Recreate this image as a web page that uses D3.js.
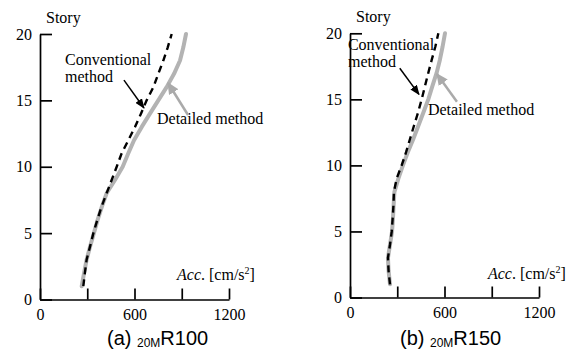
<!DOCTYPE html>
<html><head><meta charset="utf-8">
<script src="https://cdn.jsdelivr.net/npm/d3@7"></script>
<style>
body{margin:0;background:#fff;}
svg{display:block;}
</style></head>
<body><svg id="c" width="586" height="352"></svg>
<script>
const stories = [1,2,3,4,5,6,7,8,9,10,11,12,13,14,15,16,17,18,19,20];
const convA = [275,285,296,318,339,364,391,423,455,487,518,561,603,641,677,720,751,783,811,836];
const detA  = [265,280,296,318,342,366,393,423,476,525,560,597,646,698,751,804,851,889,910,927];
const convB = [254,245,241,254,265,271,276,279,296,328,356,381,406,432,455,476,497,519,542,561];
const detB  = [254,245,241,254,267,273,277,282,307,336,367,402,434,466,497,523,550,571,588,603];
const xTicks = [0,300,600,900,1200];
const xTickLabels = ["0","","600","","1200"];
const yTicks = [0,5,10,15,20];
const titles = [["(a) ","20M","R100"],["(b) ","20M","R150"]];
// annotation positions in data units [acc, story]
const annA = {conv:[159,17.66], method:[159,16.38], convArrow:[[533,16.53],[660,14.43]], det:[743,13.22], detArrow:[[940,13.9],[813,16.31]], acc:[870,1.47]};
const annB = {conv:[-13,18.74], method:[-13,17.45], convArrow:[[316,17.35],[438,15.38]], det:[495,13.82], detArrow:[[679,14.82],[552,16.92]], acc:[876,1.38]};

const panels = [
  {conv:convA, det:detA, xr:[40,229], yr:[299.5,34], ann:annA, title:titles[0], tx:107},
  {conv:convB, det:detB, xr:[350,539], yr:[297.5,33.3], ann:annB, title:titles[1], tx:400}
];
const svg = d3.select("#c");
const serif = "'Liberation Serif','Times New Roman',serif";

const defs = svg.append("defs");
function marker(id, color, w, h){
  defs.append("marker").attr("id",id).attr("viewBox","0 0 10 10").attr("refX",9).attr("refY",5)
    .attr("markerWidth",w).attr("markerHeight",h).attr("markerUnits","userSpaceOnUse").attr("orient","auto")
    .attr("preserveAspectRatio","none")
    .append("path").attr("d","M0,0L10,5L0,10Z").attr("fill",color);
}
marker("ab","#000",10,8);
marker("ag","#aaa",12,11);

panels.forEach(p=>{
  const x = d3.scaleLinear().domain([0,1200]).range(p.xr);
  const y = d3.scaleLinear().domain([0,20]).range(p.yr);
  const g = svg.append("g");
  const ax = g.append("g").attr("transform",`translate(0,${y(0)})`)
    .call(d3.axisBottom(x).tickValues(xTicks).tickSize(-11).tickSizeOuter(0).tickPadding(9)
      .tickFormat((d,i)=>xTickLabels[i]));
  const ay = g.append("g").attr("transform",`translate(${x(0)},0)`)
    .call(d3.axisLeft(y).tickValues(yTicks).tickSize(-12).tickSizeOuter(0).tickPadding(8));
  [ax,ay].forEach(a=>{
    a.selectAll("path,line").attr("stroke","#000").attr("stroke-width",1.7);
    a.selectAll("text").attr("font-family",serif).attr("font-size",16).attr("fill","#000");
  });
  ay.selectAll("text").attr("dy","0.32em");

  const line = d3.line().x(d=>x(d[0])).y(d=>y(d[1]));
  g.append("path").datum(p.det.map((v,i)=>[v,stories[i]])).attr("d",line)
    .attr("fill","none").attr("stroke","#b3b3b3").attr("stroke-width",4).attr("stroke-linejoin","round").attr("stroke-linecap","round");
  g.append("path").datum(p.conv.map((v,i)=>[v,stories[i]])).attr("d",line)
    .attr("fill","none").attr("stroke","#000").attr("stroke-width",2.4).attr("stroke-dasharray","7,5");

  g.append("text").attr("x",x(0)+6).attr("y",y(20)-11).text("Story")
    .attr("font-family",serif).attr("font-size",16);

  const a = p.ann;
  g.append("text").attr("x",x(a.conv[0])).attr("y",y(a.conv[1])).text("Conventional").attr("font-family",serif).attr("font-size",16);
  g.append("text").attr("x",x(a.method[0])).attr("y",y(a.method[1])).text("method").attr("font-family",serif).attr("font-size",16);
  g.append("text").attr("x",x(a.det[0])).attr("y",y(a.det[1])).text("Detailed method").attr("font-family",serif).attr("font-size",16);
  g.append("line").attr("x1",x(a.convArrow[0][0])).attr("y1",y(a.convArrow[0][1]))
    .attr("x2",x(a.convArrow[1][0])).attr("y2",y(a.convArrow[1][1]))
    .attr("stroke","#000").attr("stroke-width",1.5).attr("marker-end","url(#ab)");
  g.append("line").attr("x1",x(a.detArrow[0][0])).attr("y1",y(a.detArrow[0][1]))
    .attr("x2",x(a.detArrow[1][0])).attr("y2",y(a.detArrow[1][1]))
    .attr("stroke","#aaa").attr("stroke-width",2.5).attr("marker-end","url(#ag)");

  const t = g.append("text").attr("x",x(a.acc[0])).attr("y",y(a.acc[1])).attr("font-family",serif).attr("font-size",16);
  t.append("tspan").attr("font-style","italic").text("Acc");
  t.append("tspan").text(". [cm/s");
  t.append("tspan").attr("font-size",10).attr("dy",-6).text("2");
  t.append("tspan").attr("dy",6).text("]");

  const tt = g.append("text").attr("x",p.tx).attr("y",345).attr("font-family","'Liberation Sans',Arial,sans-serif").attr("font-size",20);
  tt.append("tspan").text(p.title[0]);
  tt.append("tspan").attr("font-size",12).attr("dy",2).text(p.title[1]);
  tt.append("tspan").attr("dy",-2).text(p.title[2]);
});
</script></body></html>
